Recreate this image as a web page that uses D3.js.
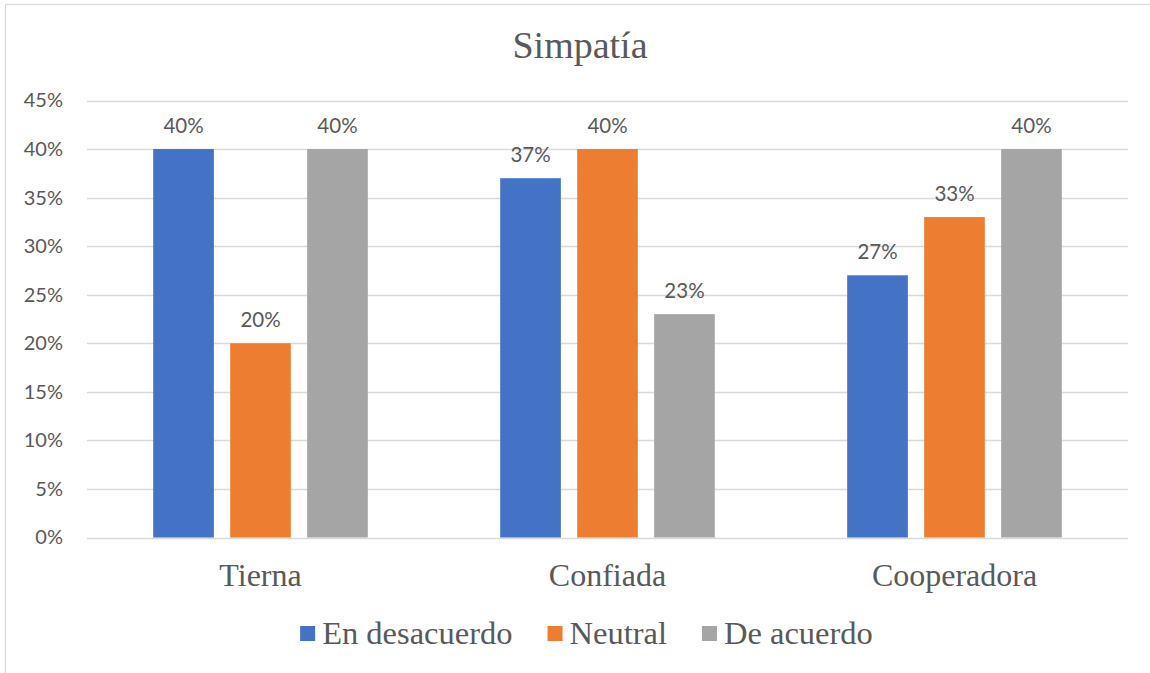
<!DOCTYPE html>
<html><head><meta charset="utf-8">
<script src="https://cdn.jsdelivr.net/npm/d3@7"></script>
<style>body{margin:0;background:#fff;}svg{display:block;}</style>
</head><body>
<svg id="c" width="1150" height="673"></svg>
<script>
const title = "Simpatía";
const categories = ["Tierna", "Confiada", "Cooperadora"];
const seriesNames = ["En desacuerdo", "Neutral", "De acuerdo"];
const enDesacuerdo = [0.40, 0.37, 0.27];
const neutral = [0.20, 0.40, 0.33];
const deAcuerdo = [0.40, 0.23, 0.40];
const yTicks = [0, 0.05, 0.10, 0.15, 0.20, 0.25, 0.30, 0.35, 0.40, 0.45];
const colors = ["#4472C4", "#ED7D31", "#A5A5A5"];

(function(){
const seriesValues = [enDesacuerdo, neutral, deAcuerdo];
const svg = d3.select("#c");
const textColor = "#595959";
const serif = "'Liberation Serif','Times New Roman',serif";
const sans = "Lato,'Open Sans',sans-serif";

svg.append("rect").attr("x",5.5).attr("y",4.5).attr("width",1300).attr("height",1000)
  .attr("fill","#fff").attr("stroke","#d9d9d9").attr("stroke-width",1.2);

const pLeft = 87, pRight = 1128, pTop = 100.5, pBottom = 537.5;
const y = d3.scaleLinear().domain([0, 0.45]).range([pBottom, pTop]);
const x0 = d3.scaleBand().domain(categories).range([pLeft, pRight]).padding(0);
const x1 = d3.scaleBand().domain(seriesNames).range([0, x0.bandwidth()])
  .paddingInner(0.212).paddingOuter(0.86);

svg.append("g").selectAll("line").data(yTicks).join("line")
  .attr("x1", pLeft).attr("x2", pRight)
  .attr("y1", d => Math.round(y(d)) + 0.5).attr("y2", d => Math.round(y(d)) + 0.5)
  .attr("stroke", "#d9d9d9").attr("stroke-width", 1.5);

const yAxis = d3.axisLeft(y).tickValues(yTicks).tickFormat(d3.format(".0%")).tickSize(0).tickPadding(24);
const ya = svg.append("g").attr("transform", `translate(${pLeft},0)`).call(yAxis);
ya.select(".domain").remove();
ya.selectAll("text").attr("fill", textColor).style("font-family", sans).style("font-size", "20px");

const rows = [];
categories.forEach((c, i) => seriesNames.forEach((s, j) => rows.push({c, s, j, v: seriesValues[j][i]})));
const g = svg.append("g");
g.selectAll("rect").data(rows).join("rect")
  .attr("x", d => x0(d.c) + x1(d.s))
  .attr("width", x1.bandwidth())
  .attr("y", d => y(d.v))
  .attr("height", d => y(0) - y(d.v))
  .attr("fill", d => colors[d.j]);

g.selectAll("text").data(rows).join("text")
  .attr("x", d => x0(d.c) + x1(d.s) + x1.bandwidth()/2)
  .attr("y", d => y(d.v) - 16)
  .attr("text-anchor", "middle")
  .attr("fill", textColor).style("font-family", sans).style("font-size", "20.5px")
  .text(d => d3.format(".0%")(d.v));

const xAxis = d3.axisBottom(x0).tickSize(0).tickPadding(26);
const xa = svg.append("g").attr("transform", `translate(0,${pBottom})`).call(xAxis);
xa.select(".domain").remove();
xa.selectAll("text").attr("fill", textColor).style("font-family", serif).style("font-size", "32px");

svg.append("text").attr("x", 580).attr("y", 58).attr("text-anchor", "middle")
  .attr("fill", textColor).style("font-family", serif).style("font-size", "38px").text(title);

const lg = svg.append("g");
const items = lg.selectAll("g").data(seriesNames).join("g");
items.append("rect").attr("width", 15).attr("height", 15).attr("y", 626)
  .attr("fill", (d, i) => colors[i]);
items.append("text").attr("x", 22).attr("y", 644)
  .attr("fill", textColor).style("font-family", serif).style("font-size", "32.5px").text(d => d);
let xpos = 0; const offs = [];
items.each(function(d) {
  offs.push(xpos);
  const w = d3.select(this).select("text").node().getComputedTextLength();
  xpos += 22 + w + 35;
});
const total = xpos - 35;
const start = 586.5 - total/2;
items.attr("transform", (d, i) => `translate(${start + offs[i]},0)`);
})();
</script>
</body></html>
